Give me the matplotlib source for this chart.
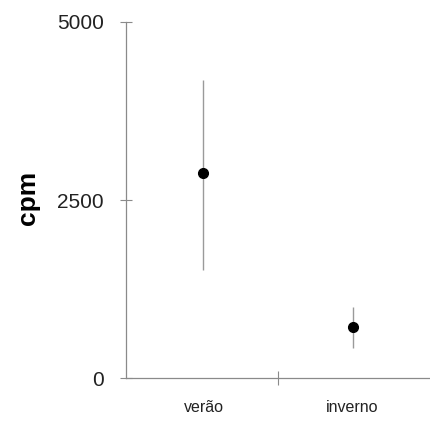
import matplotlib
matplotlib.use("Agg")
import matplotlib.pyplot as plt

categories = ["verão", "inverno"]
means = [2880, 716]
lower = [1517, 421]
upper = [4185, 997]
yticks = [0, 2500, 5000]

fig = plt.figure(figsize=(4.3, 4.23), dpi=100)
ax = fig.add_axes([0.293, 0.106, 0.707, 0.842])
x = [1, 2]
yerr = [[m - l for m, l in zip(means, lower)], [u - m for m, u in zip(means, upper)]]
ax.errorbar(x, means, yerr=yerr, fmt="o", color="black", ecolor="#9a9a9a",
            elinewidth=1, markersize=7, capsize=0, zorder=3)
ax.set_xlim(0.48, 2.52)
ax.set_ylim(0, 5000)
for s in ["top", "right"]:
    ax.spines[s].set_visible(False)
for s in ["left", "bottom"]:
    ax.spines[s].set_color("#8a8a8a")
    ax.spines[s].set_linewidth(0.9)
ax.set_yticks(yticks)
ax.set_yticklabels([str(v) for v in yticks], fontsize=15, color="#222222",
                   family="Liberation Sans")
ax.tick_params(axis="y", direction="inout", length=8, width=0.8, color="#8a8a8a", pad=12)
ax.set_xticks([1.5])
ax.set_xticklabels([""])
ax.tick_params(axis="x", which="major", direction="inout", length=10, width=0.8, color="#8a8a8a")
ax.set_xticks(x, minor=True)
ax.set_xticklabels(categories, minor=True, fontsize=11.5, color="#222222", family="Liberation Sans")
ax.tick_params(axis="x", which="minor", length=0, pad=16)
ax.set_ylabel("cpm", fontsize=19, fontweight="bold", family="Liberation Sans")
ax.yaxis.set_label_coords(-0.283, 0.506)
fig.savefig("out.png", dpi=100)
